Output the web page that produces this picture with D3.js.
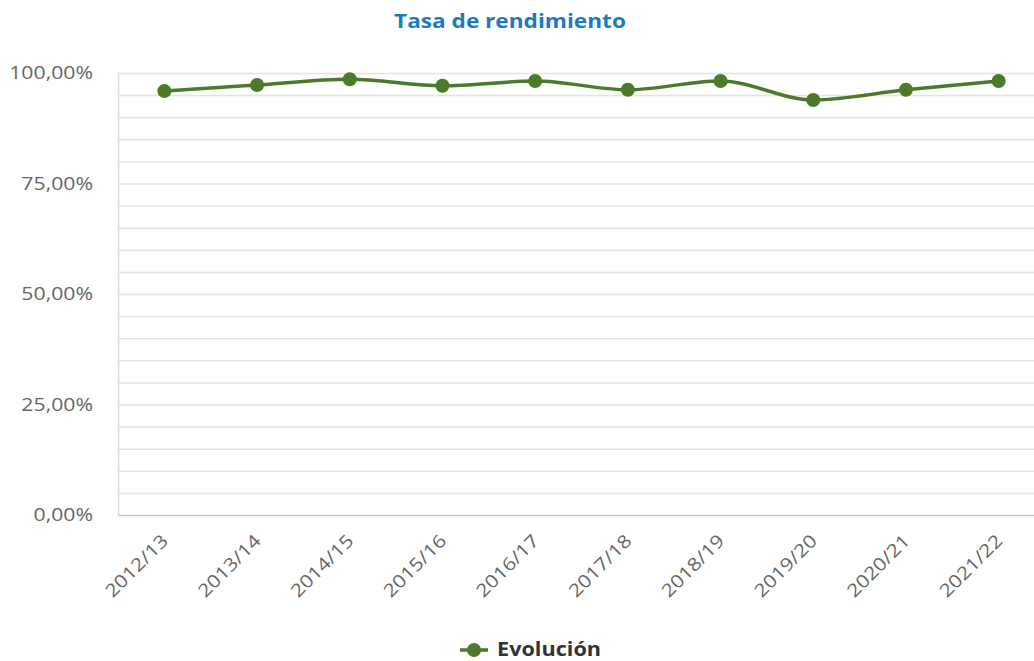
<!DOCTYPE html>
<html>
<head>
<meta charset="utf-8">
<script src="https://cdn.jsdelivr.net/npm/d3@7"></script>
<style>
  body { margin: 0; background: #fff; }
  svg { font-family: "Open Sans", sans-serif; display: block; }
</style>
</head>
<body>
<svg id="svg" width="1034" height="661"></svg>
<script>
// data
const years = ['2012/13','2013/14','2014/15','2015/16','2016/17','2017/18','2018/19','2019/20','2020/21','2021/22'];
const rates = [95.9, 97.3, 98.6, 97.1, 98.2, 96.2, 98.2, 93.9, 96.2, 98.2];
const yTicks = [0, 25, 50, 75, 100];
const yGrid = d3.range(0, 101, 5);

const W = 1034, H = 661;
const plotL = 118, plotR = 1045, plotT = 73, plotB = 515;
const green = '#4b7a29';

const svg = d3.select('#svg');

const x = d3.scalePoint().domain(years).range([plotL, plotR]).padding(0.5);
const y = d3.scaleLinear().domain([0, 100]).range([plotB, plotT]);

// the reference text is drawn a bit wider than the font, widen it a little
function widen(sel, k) {
  sel.each(function() {
    const w = this.getComputedTextLength();
    d3.select(this).attr('textLength', w * k).attr('lengthAdjust', 'spacingAndGlyphs');
  });
}

// title
svg.append('text')
   .attr('x', 510).attr('y', 28)
   .attr('text-anchor', 'middle')
   .style('font-size', '20px').style('font-weight', 'bold')
   .style('fill', '#1b7bbf')
   .text('Tasa de rendimiento')
   .call(widen, 1.13);

// grid
svg.append('g').selectAll('line')
   .data(yGrid.filter(d => d > 0))
   .join('line')
   .attr('x1', plotL).attr('x2', W)
   .attr('y1', d => y(d) + 0.5).attr('y2', d => y(d) + 0.5)
   .attr('stroke', '#e3e3e3').attr('stroke-width', 1.5);

// axes lines
svg.append('line')
   .attr('x1', plotL + 0.5).attr('x2', plotL + 0.5)
   .attr('y1', plotT).attr('y2', plotB)
   .attr('stroke', '#dcdcdc').attr('stroke-width', 1.5);
svg.append('line')
   .attr('x1', plotL).attr('x2', W)
   .attr('y1', plotB + 0.5).attr('y2', plotB + 0.5)
   .attr('stroke', '#c8c8c8').attr('stroke-width', 1.5);

// y labels
const fmt = d => d3.format('.2f')(d).replace('.', ',') + '%';
svg.append('g').selectAll('text')
   .data(yTicks)
   .join('text')
   .attr('x', 93).attr('y', d => y(d) + 6)
   .attr('text-anchor', 'end')
   .style('font-size', '18px').style('fill', '#666')
   .text(fmt)
   .call(widen, 1.18);

// x labels
svg.append('g').selectAll('text')
   .data(years)
   .join('text')
   .attr('transform', d => `translate(${x(d) + 5},${plotB + 27}) rotate(-45)`)
   .attr('text-anchor', 'end')
   .style('font-size', '18px').style('fill', '#666')
   .text(d => d)
   .call(widen, 1.17);

// line
const line = d3.line()
   .x((d, i) => x(years[i]))
   .y(d => y(d))
   .curve(d3.curveMonotoneX);

svg.append('path')
   .datum(rates)
   .attr('d', line)
   .attr('fill', 'none')
   .attr('stroke', green)
   .attr('stroke-width', 3.5);

svg.append('g').selectAll('circle')
   .data(rates)
   .join('circle')
   .attr('cx', (d, i) => x(years[i]))
   .attr('cy', d => y(d))
   .attr('r', 7)
   .attr('fill', green);

// legend
const lg = svg.append('g').attr('transform', 'translate(460,650)');
lg.append('line').attr('x1', 0).attr('x2', 28).attr('y1', 0).attr('y2', 0)
  .attr('stroke', green).attr('stroke-width', 3.5);
lg.append('circle').attr('cx', 14).attr('cy', 0).attr('r', 7).attr('fill', green);
lg.append('text').attr('x', 37).attr('y', 6)
  .style('font-size', '19px').style('font-weight', 'bold').style('fill', '#333')
  .text('Evolución')
  .call(widen, 1.14);
</script>
</body>
</html>
